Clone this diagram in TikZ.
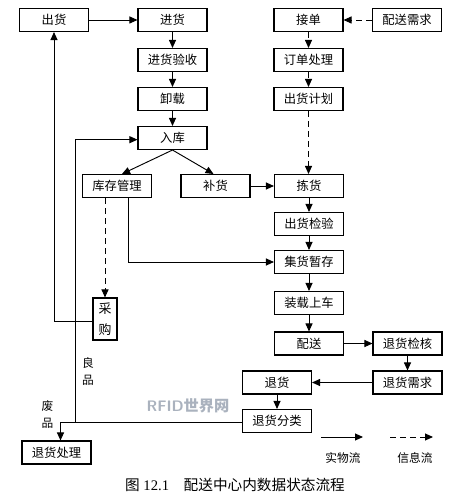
\documentclass[tikz,border=0pt]{standalone}
\usepackage{fontspec}
\setmainfont{Liberation Serif}
\newfontfamily\cjk{Noto Sans CJK SC}
\usetikzlibrary{arrows.meta,positioning}
\definecolor{markgray}{RGB}{170,178,190}
\tikzset{
  stage/.style={draw=black,line width=0.9pt,minimum width=20.7mm,minimum height=6.9mm,
    inner sep=0pt,font=\cjk\fontsize{10.5}{12}\selectfont,fill=white},
  tallstage/.style={stage,minimum width=7.2mm,minimum height=12.6mm,align=center,
    font=\cjk\fontsize{11}{18}\selectfont},
  flow/.style={-{Triangle[length=2.4mm,width=2.1mm]},line width=0.8pt},
  infoflow/.style={flow,dash pattern=on 1.8mm off 1.2mm},
  flowlabel/.style={font=\cjk\fontsize{10}{14.5}\selectfont,align=center,inner sep=0pt}
}

\begin{document}
\begin{tikzpicture}[x=0.3mm,y=-0.3mm]
  \useasboundingbox (0,0) rectangle (467,500);
  % inbound column
  \node[stage] (chuhuo) at (54,20) {出货};
  \node[stage] (jinhuo) at (172.5,20) {进货};
  \node[stage] (yanshou) at (172.5,60) {进货验收};
  \node[stage] (xiezai) at (172.5,99) {卸载};
  \node[stage] (ruku) at (172.5,138) {入库};
  \node[stage] (kucun) at (117,186) {库存管理};
  \node[stage] (buhuo) at (215.5,186) {补货};
  \node[tallstage] (caigou) at (105,319) {采\\购};
  % order column
  \node[stage] (jiedan) at (308.5,20) {接单};
  \node[stage] (xuqiu) at (407,20) {配送需求};
  \node[stage] (dingdan) at (308.5,60) {订单处理};
  \node[stage] (jihua) at (308.5,99) {出货计划};
  \node[stage] (jianhuo) at (309,186) {拣货};
  \node[stage] (jianyan) at (309,224) {出货检验};
  \node[stage] (jicun) at (309,262) {集货暂存};
  \node[stage] (zhuangzai) at (309,303) {装载上车};
  \node[stage] (peisong) at (309,343.5) {配送};
  % returns
  \node[stage] (jianhe) at (407.5,343.5) {退货检核};
  \node[stage] (thxuqiu) at (407.5,382.5) {退货需求};
  \node[stage] (tuihuo) at (277,382.5) {退货};
  \node[stage] (fenlei) at (277,421) {退货分类};
  \node[stage] (chuli) at (56.5,452.5) {退货处理};

  \draw[flow] (chuhuo) -- (jinhuo);
  \draw[flow] (jinhuo) -- (yanshou);
  \draw[flow] (yanshou) -- (xiezai);
  \draw[flow] (xiezai) -- (ruku);
  \draw[flow] (ruku.south) -- ([xshift=1.5mm]kucun.north);
  \draw[flow] (ruku.south) -- ([xshift=-0.6mm]buhuo.north);
  \draw[flow] (buhuo) -- (jianhuo);
  \draw[flow] ([xshift=3.3mm]kucun.south) |- (jicun.west);
  \draw[infoflow] (kucun.south -| caigou.north) -- (caigou.north);
  \draw[flow] ([yshift=-0.6mm]caigou.west) -| (chuhuo.south);

  \draw[infoflow] (xuqiu) -- (jiedan);
  \draw[infoflow] (jiedan) -- (dingdan);
  \draw[infoflow] (dingdan) -- (jihua);
  \draw[infoflow] (jihua.south) -- (jihua.south |- jianhuo.north);
  \draw[flow] (jianhuo) -- (jianyan);
  \draw[flow] (jianyan) -- (jicun);
  \draw[flow] (jicun) -- (zhuangzai);
  \draw[flow] (zhuangzai) -- (peisong);

  \draw[flow] (peisong) -- (jianhe);
  \draw[flow] (jianhe) -- (thxuqiu);
  \draw[flow] (thxuqiu) -- (tuihuo);
  \draw[flow] (tuihuo) -- (fenlei);
  \coordinate (fork) at (75.5,422.5);
  \draw[flow] ([yshift=-0.4mm]fenlei.west) -| ([xshift=1.2mm]chuli.north);
  \draw[flow] (fork) |- ([yshift=-0.5mm]ruku.west);
  \node[flowlabel] (liangpin) at (88,371) {良\\品};
  \node[flowlabel] (feipin) at (47.5,415) {废\\品};

  % legend
  \node[flowlabel] (wuliu) at (343,458) {实物流};
  \node[flowlabel] (xinxi) at (415,458) {信息流};
  \coordinate (wuliua) at (321,437);
  \coordinate (wuliub) at (363,437);
  \coordinate (xinxia) at (390,437);
  \coordinate (xinxib) at (433,437);
  \draw[flow] (wuliua) -- (wuliub);
  \draw[infoflow] (xinxia) -- (xinxib);

  \node[font=\fontsize{12.5}{14}\selectfont,inner sep=0pt] (caption) at (235,485)
    {{\cjk 图} 12.1\quad {\cjk 配送中心内数据状态流程}};
  \node[font=\sffamily\bfseries\fontsize{13}{14}\selectfont,text=markgray,inner sep=0pt]
    (mark) at (188,406) {RFID{\cjk 世界网}};
\end{tikzpicture}
\end{document}
